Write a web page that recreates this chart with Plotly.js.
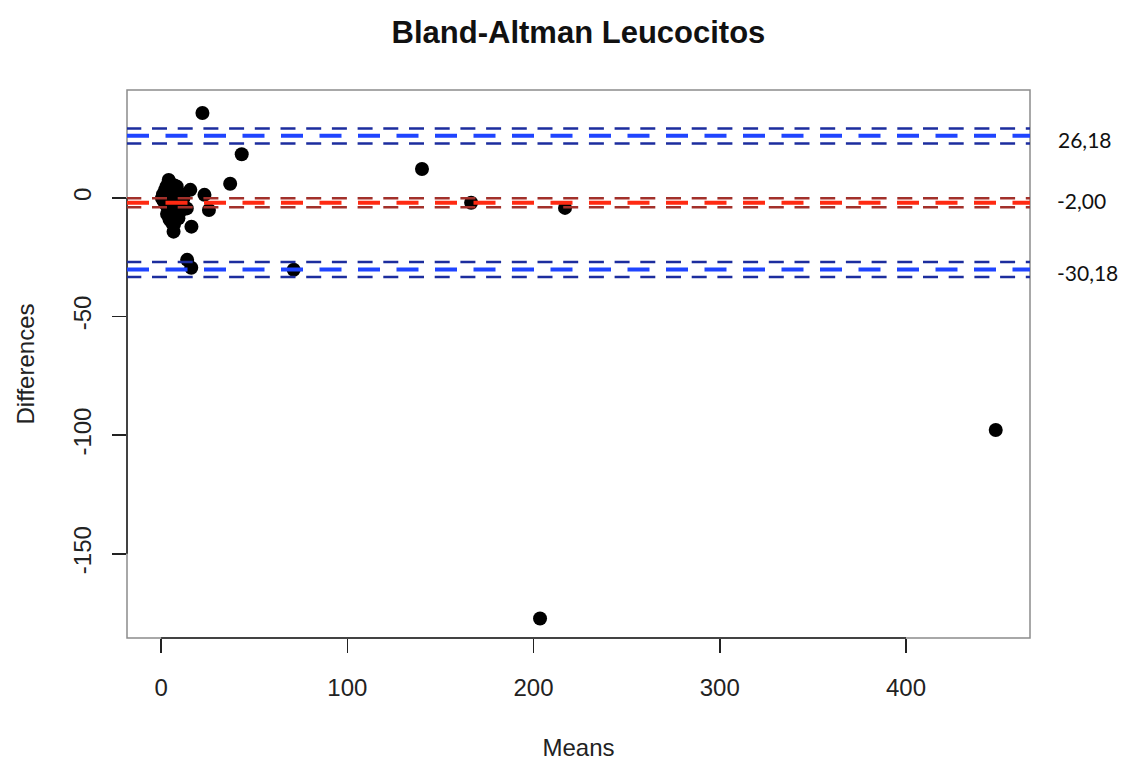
<!DOCTYPE html>
<html>
<head>
<meta charset="utf-8">
<script src="https://cdn.plot.ly/plotly-3.0.1.min.js"></script>
<style>
  html, body { margin: 0; padding: 0; background: #ffffff; }
  #chart { width: 1121px; height: 761px; }
</style>
</head>
<body>
<div id="chart"></div>
<script>
// ---- Data ----
const means = [
  0.5, 1.0, 1.5, 2.1, 2.5, 2.8, 3.0, 3.2, 3.5, 4.0, 4.1, 4.5, 4.8, 5.0, 5.5, 5.8,
  6.0, 6.5, 6.7, 7.0, 7.2, 8.0, 8.4, 9.3, 10.0, 11.1, 13.8, 15.7, 16.3,
  4.0, 6.0, 8.0, 5.0, 7.0, 9.0, 3.0, 10.0, 12.0, 6.2, 8.2,
  14.0, 16.2, 22.2, 23.3, 25.7, 37.1, 43.3, 71.2, 140.1, 166.5, 216.9, 203.5, 448.2
];
const diffs = [
  -0.1, 1.5, -1.5, 3.4, 0.5, -3.0, 5.0, -6.8, 2.0, -4.5, 7.6, -9.0, 6.2, -2.0, 5.5, -10.5,
  -6.0, 4.0, -14.2, -7.5, 5.2, -2.5, 4.8, -8.6, -6.0, -1.6, -4.4, 3.4, -12.1,
  2.0, -1.0, -3.0, -8.0, -11.0, -5.0, -3.0, 2.0, 0.0, 3.0, 1.0,
  -26.1, -29.4, 35.8, 1.3, -5.1, 6.0, 18.4, -30.3, 12.2, -2.0, -4.2, -177.3, -97.8
];
const meanDiff = -2.00;
const upperLoA = 26.18;
const lowerLoA = -30.18;
const meanDiffCI = [-3.9, -0.1];
const upperLoACI = [23.0, 29.3];
const lowerLoACI = [-33.3, -27.0];

const xTicks = [0, 100, 200, 300, 400];
const yTicks = [-150, -100, -50, 0];

// ---- Layout constants ----
const xRange = [-18.3, 466.6];
const yRange = [-185.5, 45.5];
const plotL = 127, plotR = 1030, plotT = 90, plotB = 638;
const pxPerX = (plotR - plotL) / (xRange[1] - xRange[0]);

const fmt = v => v.toFixed(2).replace('.', ',');
const px = (v, r) => (v - r[0]) / (r[1] - r[0]);

const thickStart = xRange[0] - 38.5 / pxPerX;
const thinStart = xRange[0] - 26.4 / pxPerX;
const lineEnd = xRange[1] + 60 / pxPerX;

function hline(y, color, width, dash, start) {
  return {
    type: 'line', xref: 'x', yref: 'y', x0: start, x1: lineEnd, y0: y, y1: y,
    line: { color: color, width: width, dash: dash }, layer: 'above'
  };
}

const thinDash = '15px,10.7px';
const thickDash = '22px,16.5px';
const darkBlue = '#1c2d9e', blue = '#1f44ff', darkRed = '#a2302a', red = '#ff2a12';

const shapes = [
  // plot box
  { type: 'rect', xref: 'paper', yref: 'paper', x0: 0, x1: 1, y0: 0, y1: 1,
    line: { color: '#8c8c8c', width: 1.5 }, layer: 'above' },
  // axis line segments spanning the ticks
  { type: 'line', xref: 'paper', yref: 'paper',
    x0: px(xTicks[0], xRange), x1: px(xTicks[xTicks.length - 1], xRange), y0: 0, y1: 0,
    line: { color: '#222222', width: 1.5 } },
  { type: 'line', xref: 'paper', yref: 'paper', x0: 0, x1: 0,
    y0: px(yTicks[0], yRange), y1: px(yTicks[yTicks.length - 1], yRange),
    line: { color: '#222222', width: 1.5 } },
  // confidence interval lines
  hline(upperLoACI[0], darkBlue, 2.5, thinDash, thinStart),
  hline(upperLoACI[1], darkBlue, 2.5, thinDash, thinStart),
  hline(lowerLoACI[0], darkBlue, 2.5, thinDash, thinStart),
  hline(lowerLoACI[1], darkBlue, 2.5, thinDash, thinStart),
  hline(meanDiffCI[0], darkRed, 2.5, thinDash, thinStart),
  hline(meanDiffCI[1], darkRed, 2.5, thinDash, thinStart),
  // limits of agreement and mean difference
  hline(upperLoA, blue, 4, thickDash, thickStart),
  hline(lowerLoA, blue, 4, thickDash, thickStart),
  hline(meanDiff, red, 4, thickDash, thickStart)
];

const labelFont = { family: 'Lato, "Open Sans", sans-serif', size: 21, color: '#111111' };
const annotations = [
  { xref: 'paper', yref: 'y', x: (1085 - plotL) / (plotR - plotL), y: upperLoA, yshift: -4,
    text: fmt(upperLoA), showarrow: false, font: labelFont, xanchor: 'center', yanchor: 'middle' },
  { xref: 'paper', yref: 'y', x: (1081 - plotL) / (plotR - plotL), y: meanDiff, yshift: 2,
    text: fmt(meanDiff), showarrow: false, font: labelFont, xanchor: 'center', yanchor: 'middle' },
  { xref: 'paper', yref: 'y', x: (1087 - plotL) / (plotR - plotL), y: lowerLoA, yshift: -3,
    text: fmt(lowerLoA), showarrow: false, font: labelFont, xanchor: 'center', yanchor: 'middle' }
];

const baseFont = { family: '"Liberation Sans", Arial, Helvetica, sans-serif', size: 24, color: '#222222' };

const trace = {
  type: 'scatter', mode: 'markers', x: means, y: diffs,
  marker: { color: '#000000', size: 14, line: { width: 0 } },
  hoverinfo: 'x+y', showlegend: false
};

const layout = {
  width: 1121, height: 761,
  margin: { l: plotL, r: 1121 - plotR, t: plotT, b: 761 - plotB, pad: 0 },
  paper_bgcolor: '#ffffff', plot_bgcolor: '#ffffff',
  font: baseFont,
  title: {
    text: 'Bland-Altman Leucocitos',
    font: { family: '"Liberation Sans", Arial, Helvetica, sans-serif', size: 31, color: '#111111', weight: 'bold' },
    x: (plotL + plotR) / 2 / 1121, xanchor: 'center', xref: 'container',
    y: 1 - 32 / 761, yanchor: 'middle', yref: 'container'
  },
  xaxis: {
    range: xRange, tickvals: xTicks, ticktext: xTicks.map(String),
    showgrid: false, zeroline: false, showline: false,
    ticks: 'outside', ticklen: 14, tickwidth: 1.5, tickcolor: '#222222',
    ticklabelstandoff: 14, tickfont: baseFont,
    title: { text: 'Means', font: baseFont, standoff: 39 },
    automargin: false, fixedrange: true
  },
  yaxis: {
    range: yRange, tickvals: yTicks, ticktext: yTicks.map(String),
    showgrid: false, zeroline: false, showline: false,
    ticks: 'outside', ticklen: 14, tickwidth: 1.5, tickcolor: '#222222',
    tickangle: -90, ticklabelstandoff: 11, tickfont: baseFont,
    title: { text: 'Differences', font: baseFont, standoff: 28 },
    automargin: false, fixedrange: true
  },
  shapes: shapes,
  annotations: annotations,
  showlegend: false
};

Plotly.newPlot('chart', [trace], layout, { displayModeBar: false, staticPlot: true });
</script>
</body>
</html>
